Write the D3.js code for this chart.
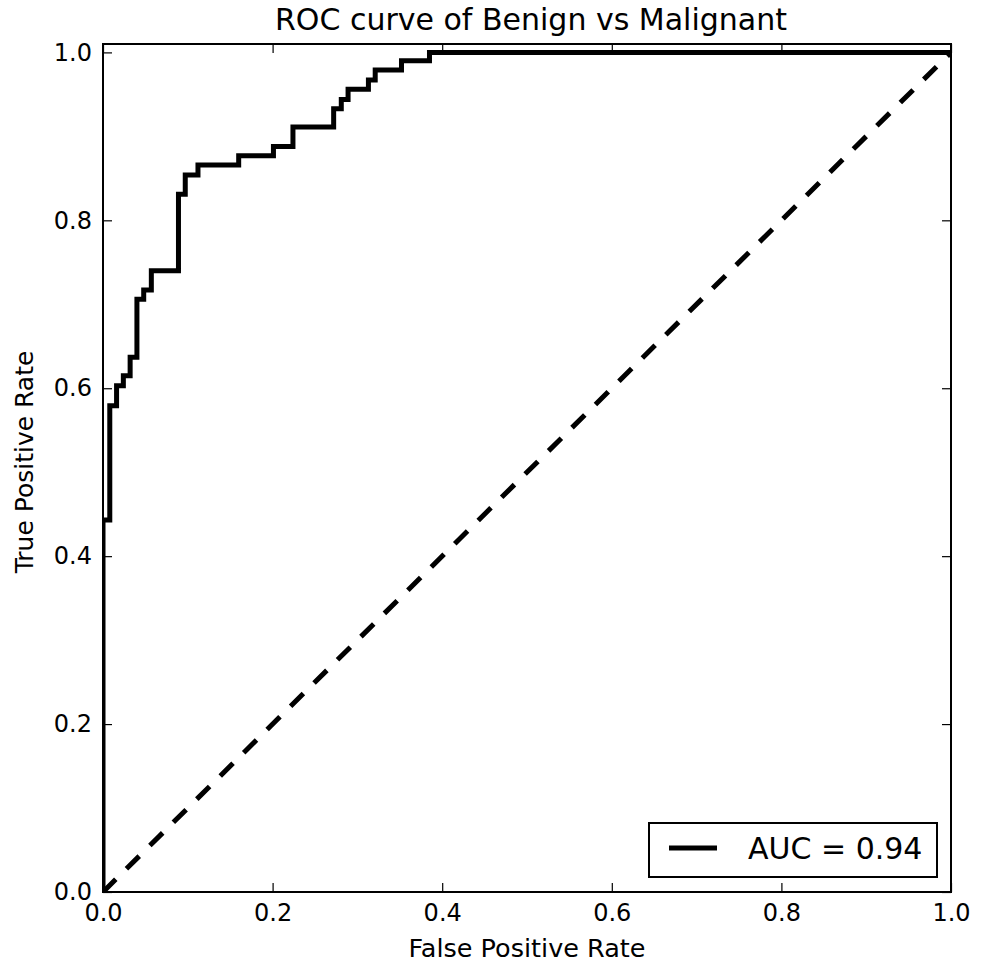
<!DOCTYPE html>
<html><head><meta charset="utf-8">
<script src="https://cdn.jsdelivr.net/npm/d3@7"></script>
<style>body{margin:0;background:#fff}svg{display:block}text{font-family:"DejaVu Sans",sans-serif;fill:#000}</style>
</head><body>
<script>
const title = "ROC curve of Benign vs Malignant";
const xLabel = "False Positive Rate";
const yLabel = "True Positive Rate";
const legendLabel = "AUC = 0.94";
const fpr = [0, 0, 0.008, 0.016, 0.024, 0.032, 0.040, 0.048, 0.057, 0.089, 0.097, 0.112, 0.160, 0.201, 0.224, 0.272, 0.281, 0.289, 0.313, 0.321, 0.352, 0.385, 1.0];
const tpr = [0, 0.443, 0.579, 0.603, 0.615, 0.637, 0.706, 0.717, 0.740, 0.831, 0.854, 0.866, 0.877, 0.888, 0.911, 0.933, 0.944, 0.956, 0.967, 0.979, 0.990, 1.0, 1.0];
const chanceX = [0, 1];
const chanceY = [0, 1];
const tickValues = [0, 0.2, 0.4, 0.6, 0.8, 1.0];

const W = 984, H = 964;
const m = {left: 103, right: 33, top: 44, bottom: 72};
const svg = d3.select("body").append("svg").attr("width", W).attr("height", H);
const x = d3.scaleLinear().domain([0, 1]).range([m.left, W - m.right]);
const y = d3.scaleLinear().domain([0, 1.01]).range([H - m.bottom, m.top]);
const fmt = d3.format(".1f");

svg.append("clipPath").attr("id", "clip").append("rect")
  .attr("x", m.left).attr("y", m.top).attr("width", x(1) - m.left).attr("height", y(0) - m.top);

// chance line
svg.append("path").attr("clip-path", "url(#clip)")
  .attr("d", d3.line().x((d, i) => x(chanceX[i])).y((d, i) => y(chanceY[i]))(chanceX))
  .attr("fill", "none").attr("stroke", "#000").attr("stroke-width", 5)
  .attr("stroke-dasharray", "18,15");

// ROC curve
svg.append("path").attr("clip-path", "url(#clip)")
  .attr("d", d3.line().curve(d3.curveStepAfter).x((d, i) => x(fpr[i])).y((d, i) => y(tpr[i]))(fpr))
  .attr("fill", "none").attr("stroke", "#000").attr("stroke-width", 5).attr("stroke-linejoin", "miter");

// axes with inward ticks
const tl = 9;
const styleAxis = g => { g.select(".domain").remove(); g.selectAll("line").attr("stroke", "#000").attr("stroke-width", 1.2); g.selectAll("text").style("font-size", "24px").style("font-family", "DejaVu Sans"); };
svg.append("g").attr("transform", `translate(0,${y(0)})`)
  .call(d3.axisBottom(x).tickValues(tickValues).tickFormat(fmt).tickSizeInner(-tl).tickSizeOuter(0).tickPadding(12))
  .call(styleAxis);
svg.append("g").attr("transform", `translate(0,${m.top})`)
  .call(d3.axisTop(x).tickValues(tickValues).tickFormat("").tickSizeInner(-tl).tickSizeOuter(0))
  .call(styleAxis);
svg.append("g").attr("transform", `translate(${m.left},0)`)
  .call(d3.axisLeft(y).tickValues(tickValues).tickFormat(fmt).tickSizeInner(-tl).tickSizeOuter(0).tickPadding(11))
  .call(styleAxis);
svg.append("g").attr("transform", `translate(${x(1)},0)`)
  .call(d3.axisRight(y).tickValues(tickValues).tickFormat("").tickSizeInner(-tl).tickSizeOuter(0))
  .call(styleAxis);

// frame
svg.append("rect").attr("x", m.left).attr("y", m.top).attr("width", x(1) - m.left).attr("height", y(0) - m.top)
  .attr("fill", "none").attr("stroke", "#000").attr("stroke-width", 2);

// titles
svg.append("text").attr("x", 531).attr("y", 30).attr("text-anchor", "middle")
  .style("font-size", "30px").text(title);
svg.append("text").attr("x", 527).attr("y", 957).attr("text-anchor", "middle")
  .style("font-size", "25.5px").text(xLabel);
svg.append("text").attr("transform", `translate(33,${(m.top + y(0)) / 2 - 6}) rotate(-90)`).attr("text-anchor", "middle")
  .style("font-size", "25px").text(yLabel);

// legend
const lg = svg.append("g");
lg.append("rect").attr("x", 649).attr("y", 823).attr("width", 288).attr("height", 54)
  .attr("fill", "#fff").attr("stroke", "#000").attr("stroke-width", 2);
lg.append("line").attr("x1", 669).attr("x2", 717).attr("y1", 848).attr("y2", 848)
  .attr("stroke", "#000").attr("stroke-width", 5);
lg.append("text").attr("x", 748).attr("y", 859).style("font-size", "30px").text(legendLabel);
</script>
</body></html>
